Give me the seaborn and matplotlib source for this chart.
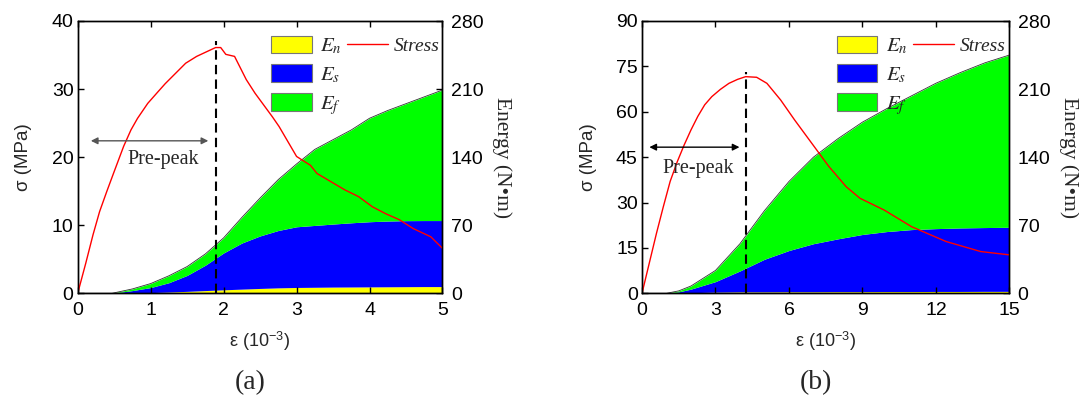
import numpy as np
import pandas as pd
import matplotlib
matplotlib.use("Agg")
import matplotlib.pyplot as plt
from matplotlib.patches import Patch
from matplotlib.lines import Line2D
import seaborn as sns

# ---------------- panel (a) ----------------
strain_a = [0, 0.11, 0.21, 0.30, 0.40, 0.49, 0.63, 0.73, 0.82, 0.96, 1.10, 1.20,
            1.34, 1.48, 1.63, 1.77, 1.89, 1.96, 2.03, 2.15, 2.31, 2.43, 2.67,
            2.76, 3.00, 3.19, 3.28, 3.47, 3.66, 3.85, 4.04, 4.22, 4.41, 4.60,
            4.84, 5.00]
stress_a = [0, 4.4, 8.6, 12.0, 15.0, 17.6, 21.6, 24.0, 25.7, 27.9, 29.6, 30.8,
            32.3, 33.8, 34.8, 35.5, 36.1, 36.1, 35.1, 34.8, 31.4, 29.4, 25.9,
            24.5, 20.1, 18.8, 17.6, 16.4, 15.2, 14.2, 12.7, 11.7, 10.8, 9.5,
            8.3, 6.6]
e_strain_a = [0, 0.47, 0.75, 1.0, 1.25, 1.5, 1.75, 2.0, 2.25, 2.5, 2.75, 3.0,
              3.25, 3.5, 3.75, 4.0, 4.25, 4.5, 4.75, 5.0]
En_a = [0, 0, 0.3, 0.7, 1.3, 2.0, 2.8, 3.6, 4.3, 5.0, 5.6, 6.0, 6.2, 6.4,
        6.5, 6.6, 6.7, 6.8, 6.9, 6.9]
Es_a = [0, 0, 2.5, 5.2, 9.6, 16.4, 26.1, 37.9, 47.4, 54.0, 59.0, 62.4, 63.6,
        64.8, 66.0, 67.0, 67.6, 67.9, 67.9, 67.9]
Ef_a = [0, 0, 1.7, 4.1, 7.1, 9.1, 11.6, 15.5, 26.3, 39.0, 52.4, 64.6, 78.2,
        86.8, 95.5, 106.4, 113.7, 120.3, 127.2, 134.2]
peak_a = 1.89

# ---------------- panel (b) ----------------
strain_b = [0, 0.59, 0.87, 1.15, 1.44, 1.72, 2.0, 2.28, 2.56, 2.85, 3.2, 3.55,
            3.9, 4.23, 4.68, 5.10, 5.66, 6.23, 6.93, 7.63, 8.34, 8.90, 9.89,
            11.01, 12.42, 13.83, 15.0]
stress_b = [0, 19.8, 28.6, 37.0, 43.5, 49.0, 54.0, 58.5, 62.3, 65.0, 67.4, 69.4,
            70.7, 71.6, 71.4, 69.4, 63.9, 57.3, 49.6, 41.9, 35.2, 31.4, 27.5,
            22.0, 17.1, 13.8, 12.7]
e_strain_b = [0, 1, 1.5, 2, 3, 4, 5, 6, 7, 8, 9, 10, 11, 12, 13, 14, 15]
En_b = [0, 0, 0.3, 0.6, 1.2, 1.5, 1.5, 1.6, 1.6, 1.7, 1.7, 1.8, 1.8, 1.9,
        1.9, 2.0, 2.0]
Es_b = [0, 0, 1.2, 3.7, 10.8, 21.5, 33.5, 42.4, 49.4, 54.3, 58.8, 61.7, 63.7,
        64.6, 65.3, 65.6, 65.9]
Ef_b = [0, 0, 1.0, 3.2, 11.5, 28.0, 50.0, 71.0, 89.0, 103.0, 115.5, 126.5,
        137.5, 149.5, 159.8, 169.4, 177.1]
peak_b = 4.23

panels = [
    dict(strain=strain_a, stress=stress_a, e_strain=e_strain_a, En=En_a, Es=Es_a,
         Ef=Ef_a, peak=peak_a, peak_top=37.0, xlim=(0, 5), xticks=[0, 1, 2, 3, 4, 5],
         ylim=(0, 40), yticks=[0, 10, 20, 30, 40], arrow=(0.18, 1.79, 22.4),
         arrow_color="#555555", text_xy=(1.17, 19.6), tag="(a)",
         left=77.7, right=442.5, tag_x=249.7),
    dict(strain=strain_b, stress=stress_b, e_strain=e_strain_b, En=En_b, Es=Es_b,
         Ef=Ef_b, peak=peak_b, peak_top=73.2, xlim=(0, 15),
         xticks=[0, 3, 6, 9, 12, 15], ylim=(0, 90),
         yticks=[0, 15, 30, 45, 60, 75, 90], arrow=(0.30, 3.98, 48.3),
         arrow_color="black", text_xy=(2.30, 41.4), tag="(b)",
         left=642.0, right=1009.4, tag_x=815.5),
]

sns.set_style("ticks")
plt.rcParams["font.family"] = ["Liberation Sans", "DejaVu Sans"]
plt.rcParams["mathtext.fontset"] = "stix"

W, H = 1079, 401
fig = plt.figure(figsize=(W / 100, H / 100), dpi=100)

serif = ["Liberation Serif", "DejaVu Serif"]

for p in panels:
    top_px, bot_px = 21, 293.3
    ax = fig.add_axes([p["left"] / W, 1 - bot_px / H,
                       (p["right"] - p["left"]) / W, (bot_px - top_px) / H])
    ax2 = ax.twinx()

    # stacked energy areas on the right axis
    x = np.array(p["e_strain"])
    en = np.array(p["En"])
    es = en + np.array(p["Es"])
    ef = es + np.array(p["Ef"])
    ax2.fill_between(x, 0, en, color="#FFFF00", lw=0)
    ax2.fill_between(x, en, es, color="#0000FF", lw=0)
    ax2.fill_between(x, es, ef, color="#00FF00", lw=0)
    ax2.plot(x, ef, color="#333333", lw=0.6)
    ax2.set_ylim(0, 280)
    ax2.set_yticks([0, 70, 140, 210, 280])
    ax2.set_ylabel("Energy (N\u2022m)", family=serif, fontsize=15.5,
                   rotation=270, labelpad=20)

    # stress curve drawn above the energy areas
    ax.set_zorder(ax2.get_zorder() + 1)
    ax.patch.set_visible(False)
    df = pd.DataFrame({"strain": p["strain"], "stress": p["stress"]})
    sns.lineplot(data=df, x="strain", y="stress", ax=ax, color="#FF0000",
                 lw=1.0, sort=False)
    ax.plot([p["peak"], p["peak"]], [0, p["peak_top"]], color="black",
            lw=1.5, ls=(0, (4.5, 2.5)))
    x0, x1, ya = p["arrow"]
    ax.annotate("", xy=(x0, ya), xytext=(x1, ya),
                arrowprops=dict(arrowstyle="<|-|>", color=p["arrow_color"],
                                lw=1.0, mutation_scale=10, shrinkA=0, shrinkB=0))
    ax.text(*p["text_xy"], "Pre-peak", family=serif, fontsize=14.5,
            ha="center", va="center")

    ax.set_xlim(*p["xlim"])
    ax.set_ylim(*p["ylim"])
    ax.set_xticks(p["xticks"])
    ax.set_yticks(p["yticks"])
    ax.set_xlabel("\u03b5 (10$^{\\mathregular{-3}}$)", fontsize=13, labelpad=8)
    ax.set_ylabel("\u03c3 (MPa)", fontsize=13.5, labelpad=14)

    for a in (ax, ax2):
        a.tick_params(direction="in", length=4, width=1, labelsize=14,
                      colors="black")
        for s in a.spines.values():
            s.set_visible(True)
            s.set_color("black")
            s.set_linewidth(1.0)
    ax.tick_params(axis="x", top=True, which="both", pad=6)
    ax.tick_params(axis="y", pad=3)
    ax2.tick_params(axis="y", right=True, pad=6)

    # legends: energy patches in one column, stress line beside the first row
    patches = [Patch(facecolor="#FFFF00", edgecolor="#777777", lw=0.8),
               Patch(facecolor="#0000FF", edgecolor="#777777", lw=0.8),
               Patch(facecolor="#00FF00", edgecolor="#777777", lw=0.8)]
    leg1 = ax.legend(patches, ["$E_n$", "$E_s$", "$E_f$"], loc="upper left",
                     bbox_to_anchor=(0.49, 1.0), frameon=False,
                     prop=dict(size=15), handlelength=1.95, handleheight=0.9,
                     labelspacing=0.4, handletextpad=0.4, borderpad=0.2)
    ax.add_artist(leg1)
    line = Line2D([], [], color="#FF0000", lw=1.0)
    ax.legend([line], ["Stress"], loc="upper left",
              bbox_to_anchor=(0.70, 0.99), frameon=False,
              prop=dict(family=serif, style="italic", size=14),
              handlelength=2.1, handletextpad=0.3, borderpad=0.2)

    fig.text(p["tag_x"] / W, 1 - 383 / H, p["tag"], family=serif, fontsize=20,
             ha="center", va="center")

fig.savefig("out.png", dpi=100)
